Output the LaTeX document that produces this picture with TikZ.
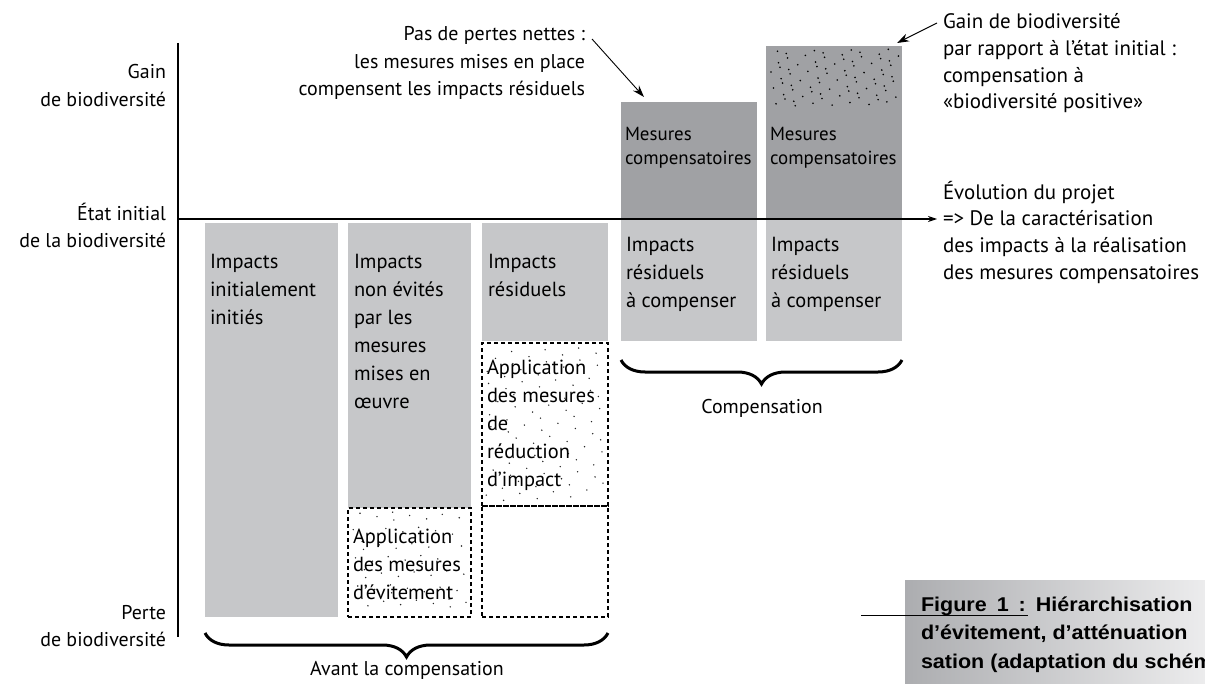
\documentclass[tikz,border=0pt]{standalone}
\usepackage{fontspec}
\setmainfont{PT Sans}
\newfontfamily\capfont[FakeStretch=1.08]{Liberation Sans}
\usetikzlibrary{arrows.meta,decorations.pathreplacing}
\definecolor{lbar}{RGB}{198,199,201}
\definecolor{dbar}{RGB}{160,161,164}
\definecolor{capL}{RGB}{172,173,176}
\definecolor{capR}{RGB}{236,236,237}
\newcommand\firstline{\rule{0pt}{18bp}}
\begin{document}
\begin{tikzpicture}[x=1bp,y=-1bp,
  every node/.style={inner sep=0pt,outer sep=0pt},
  lbl/.style={font=\fontsize{20}{27.5}\selectfont},
  rlbl/.style={font=\fontsize{21}{26.7}\selectfont,align=left,anchor=north west},
  bartxt/.style={font=\fontsize{20.5}{28.3}\selectfont,align=left,anchor=north west},
  smalltxt/.style={font=\fontsize{19}{24.5}\selectfont,align=left,anchor=north west},
  barL/.style={fill=lbar,anchor=north west},
  barD/.style={fill=dbar,anchor=north west},
  dbox/.style={draw=black,line width=1.1bp,dash pattern=on 4bp off 3bp,anchor=north west},
  axis/.style={line width=1.3bp},
  pointer/.style={line width=0.9bp,-{Stealth[length=12bp,width=8bp]}},
  bracestyle/.style={decorate,decoration={brace,mirror,amplitude=24bp},line width=3bp}
]
\useasboundingbox (0,0) rectangle (1205,684);

% bars
\node[barL,minimum width=133bp,minimum height=394bp] (b1) at (205,223) {};
\node[barL,minimum width=123bp,minimum height=285bp] (b2) at (348,223) {};
\node[dbox,minimum width=123bp,minimum height=109bp] (b2d) at (348,508) {};
\node[barL,minimum width=126bp,minimum height=118bp] (b3) at (482,223) {};
\node[dbox,minimum width=126bp,minimum height=163bp] (b3d) at (482,343) {};
\node[dbox,minimum width=126bp,minimum height=111bp] (b3e) at (482,506) {};
\node[barD,minimum width=136bp,minimum height=117bp] (b4d) at (621,102) {};
\node[barL,minimum width=136bp,minimum height=122bp] (b4) at (621,219) {};
\node[barD,minimum width=136bp,minimum height=173bp] (b5d) at (766,46) {};
\node[barL,minimum width=136bp,minimum height=122bp] (b5) at (766,219) {};

% dots (low-discrepancy scatter)
\foreach \i in {1,...,80}{
  \pgfmathsetmacro\u{mod(0.31+\i*0.7548776662,1)}
  \pgfmathsetmacro\v{mod(0.47+\i*0.5698402910,1)}
  \fill ({769+\u*130},{49+\v*57}) circle (0.9bp);}
\foreach \i in {1,...,85}{
  \pgfmathsetmacro\u{mod(0.13+\i*0.7548776662,1)}
  \pgfmathsetmacro\v{mod(0.71+\i*0.5698402910,1)}
  \fill[black!85] ({486+\u*118},{347+\v*155}) circle (0.8bp);}
\foreach \i in {1,...,55}{
  \pgfmathsetmacro\u{mod(0.59+\i*0.7548776662,1)}
  \pgfmathsetmacro\v{mod(0.23+\i*0.5698402910,1)}
  \fill[black!85] ({352+\u*115},{512+\v*101}) circle (0.8bp);}

% axes
\coordinate (axtop) at (178,43);
\coordinate (axbot) at (178,637);
\coordinate (axstart) at (178,219);
\coordinate (axend) at (937,219);
\draw[axis] (axtop) -- (axbot);
\draw[line width=1.1bp,-{Stealth[length=9bp,width=6bp]}] (axstart) -- (axend);

% axis labels
\node[lbl,align=right,anchor=north east] (gain) at (166,61) {\firstline Gain\hspace{4bp}\\de biodiversité};
\node[lbl,align=right,anchor=north east] (etat) at (166,202) {\firstline État initial\hspace{4bp}\\de la biodiversité};
\node[lbl,align=right,anchor=north east] (perte) at (166,601) {\firstline Perte\hspace{4bp}\\de biodiversité};

% bar texts
\node[bartxt] (t1) at (210,250) {\firstline Impacts\\initialement\\initiés};
\node[bartxt] (t2) at (354,250) {\firstline Impacts\\non évités\\par les\\mesures\\mises en\\œuvre};
\node[bartxt] (t3) at (488,250) {\firstline Impacts\\résiduels};
\node[bartxt] (t2d) at (353,525) {\firstline Application\\des mesures\\d’évitement};
\node[bartxt] (t3d) at (487,356) {\firstline Application\\des mesures\\de\\réduction\\d’impact};
\node[bartxt] (t4) at (626,233) {\firstline Impacts\\résiduels\\à compenser};
\node[bartxt] (t5) at (771,233) {\firstline Impacts\\résiduels\\à compenser};
\node[smalltxt] (t4d) at (625,122) {\firstline Mesures\\compensatoires};
\node[smalltxt] (t5d) at (770,122) {\firstline Mesures\\compensatoires};

% annotations
\node[lbl,align=right,anchor=north east] (pas) at (585,23) {\firstline Pas de pertes nettes :\\les mesures mises en place\\compensent les impacts résiduels};
\coordinate (pasA) at (592,39);
\coordinate (pasB) at (644,97);
\draw[pointer] (pasA) -- (pasB);

\node[rlbl] (gainr) at (943,11) {\firstline Gain de biodiversité\\par rapport à l’état initial :\\compensation à\\«biodiversité positive»};
\coordinate (gainA) at (937,23);
\coordinate (gainB) at (897,43);
\draw[pointer] (gainA) -- (gainB);

\node[rlbl] (evol) at (943,181) {\firstline Évolution du projet\\=> De la caractérisation\\des impacts à la réalisation\\des mesures compensatoires};

% braces
\coordinate (brAL) at (205,633);
\coordinate (brAR) at (608,633);
\draw[bracestyle] (brAL) -- (brAR);
\node[lbl,anchor=north] (avant) at (407,657) {\firstline Avant la compensation};
\coordinate (brCL) at (621,360);
\coordinate (brCR) at (902,360);
\draw[bracestyle] (brCL) -- (brCR);
\node[lbl,anchor=north] (comp) at (762,395) {\firstline Compensation};

% caption
\shade[left color=capL,right color=capR] (905,580) rectangle (1205,684);
\coordinate (ulA) at (861,615);
\coordinate (ulB) at (1028,615);
\draw[line width=1bp] (ulA) -- (ulB);
\node[anchor=north west,align=left,font=\capfont\bfseries\fontsize{20}{29}\selectfont] (cap) at (921,593) {\firstline Figure\hspace{10bp}1\hspace{10bp}:\hspace{10bp}Hiérarchisation\\d’évitement, d’atténuation\\sation (adaptation du schém};
\end{tikzpicture}
\end{document}
